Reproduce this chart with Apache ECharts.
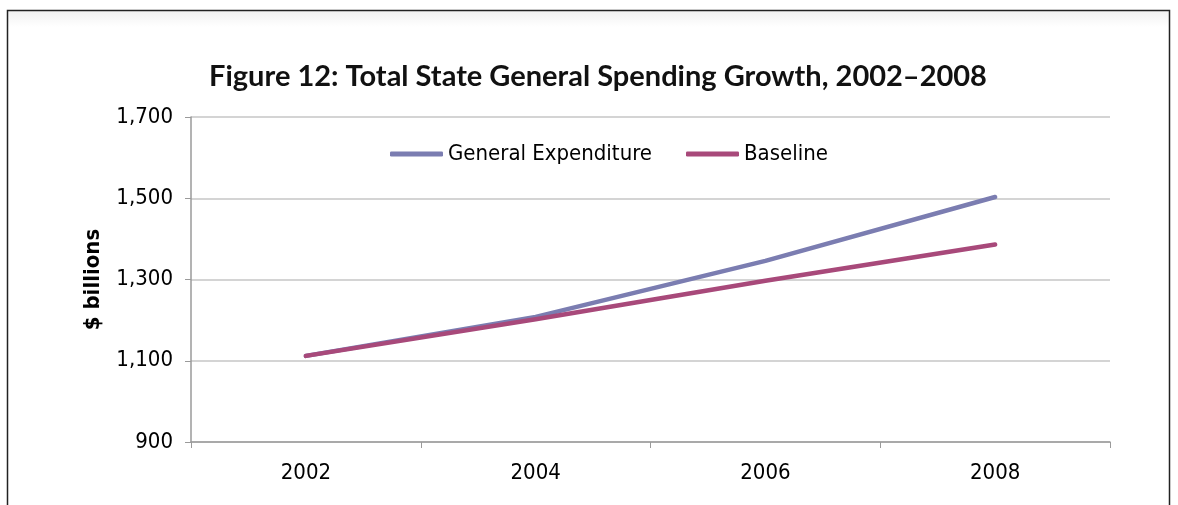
<!DOCTYPE html>
<html>
<head>
<meta charset="utf-8">
<script src="https://cdn.jsdelivr.net/npm/echarts@6/dist/echarts.min.js"></script>
<style>
  html, body { margin: 0; padding: 0; background: #fff; }
  #main { width: 1178px; height: 505px; }
</style>
</head>
<body>
<div id="main"></div>
<script>
// data
const years = ["2002", "2004", "2006", "2008"];
const generalExpenditure = [1112, 1208, 1346, 1503];
const baseline = [1112, 1202, 1297, 1386];
const yTicks = { min: 900, max: 1700, step: 200 };

const labelFont = "'DejaVu Sans Condensed', 'Liberation Sans Narrow', sans-serif";

const chart = echarts.init(document.getElementById("main"));

let option = {
  backgroundColor: "#fff",
  animation: false,
  title: {
    text: "Figure 12: Total State General Spending Growth, 2002\u20132008",
    left: 593,
    top: 57,
    textAlign: "center",
    textStyle: {
      fontFamily: "Lato, 'Open Sans', sans-serif",
      fontWeight: "bold",
      fontSize: 29,
      color: "#111",
    },
  },
  // outer frame of the figure box
  graphic: [
    {
      type: "rect",
      shape: { x: 8, y: 11, width: 1161, height: 16 },
      style: {
        fill: new echarts.graphic.LinearGradient(0, 0, 0, 1, [
          { offset: 0, color: "#f1f1f1" },
          { offset: 1, color: "#ffffff" },
        ]),
      },
      silent: true,
      z: -1,
    },
    {
      type: "rect",
      shape: { x: 7.5, y: 10.5, width: 1162, height: 520 },
      style: { fill: null, stroke: "#222", lineWidth: 1.5 },
      silent: true,
    },
  ],
  legend: {
    left: 385,
    top: 138,
    itemWidth: 53,
    itemHeight: 5,
    itemGap: 34,
    icon: "roundRect",
    textStyle: {
      fontFamily: labelFont,
      fontSize: 22,
      color: "#000",
    },
    data: ["General Expenditure", "Baseline"],
  },
  grid: {
    left: 191,
    right: 68,
    top: 117,
    bottom: 63,
    containLabel: false,
  },
  xAxis: {
    type: "category",
    data: years,
    boundaryGap: true,
    axisLine: { lineStyle: { color: "#9a9a9a", width: 1.5 } },
    axisTick: { show: true, length: 6, lineStyle: { color: "#9a9a9a" } },
    axisLabel: {
      margin: 20,
      fontFamily: labelFont,
      fontSize: 22,
      color: "#000",
    },
  },
  yAxis: {
    type: "value",
    min: yTicks.min,
    max: yTicks.max,
    interval: yTicks.step,
    name: "$ billions",
    nameLocation: "middle",
    nameGap: 87,
    nameTextStyle: {
      fontFamily: labelFont,
      fontWeight: "bold",
      fontSize: 22,
      color: "#000",
    },
    axisLine: { show: true, lineStyle: { color: "#9a9a9a", width: 1.5 } },
    axisTick: { show: true, length: 6, lineStyle: { color: "#9a9a9a" } },
    axisLabel: {
      margin: 18,
      fontFamily: labelFont,
      fontSize: 22,
      color: "#000",
      formatter: (v) => v.toLocaleString("en-US"),
    },
    splitLine: { lineStyle: { color: "#c6c6c6", width: 1.5 } },
  },
  series: [
    {
      name: "General Expenditure",
      type: "line",
      data: generalExpenditure,
      symbol: "none",
      color: "#7b7db1",
      lineStyle: { width: 4.5, cap: "round", join: "round" },
      z: 2,
    },
    {
      name: "Baseline",
      type: "line",
      data: baseline,
      symbol: "none",
      color: "#a8497a",
      lineStyle: { width: 4.5, cap: "round", join: "round" },
      z: 3,
    },
  ],
};

chart.setOption(option);
</script>
</body>
</html>
